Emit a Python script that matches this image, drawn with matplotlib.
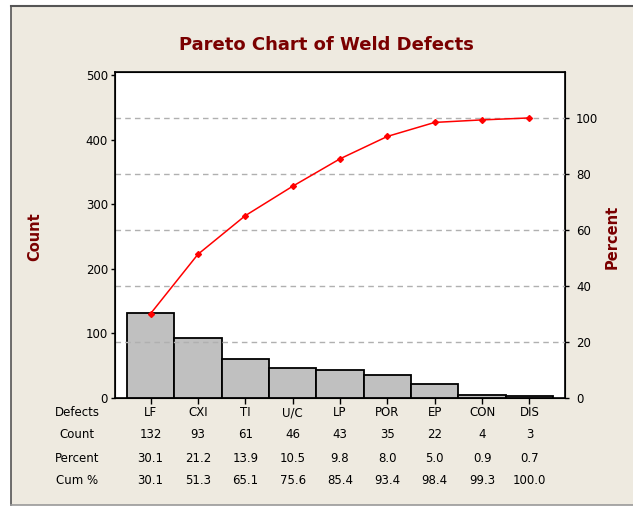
import matplotlib
matplotlib.use("Agg")
import matplotlib.pyplot as plt
from matplotlib.transforms import blended_transform_factory
from matplotlib.lines import Line2D

defects = ["LF", "CXI", "TI", "U/C", "LP", "POR", "EP", "CON", "DIS"]
counts = [132, 93, 61, 46, 43, 35, 22, 4, 3]
percent = [30.1, 21.2, 13.9, 10.5, 9.8, 8.0, 5.0, 0.9, 0.7]
cum_pct = [30.1, 51.3, 65.1, 75.6, 85.4, 93.4, 98.4, 99.3, 100.0]
count_ticks = [0, 100, 200, 300, 400, 500]
pct_ticks = [0, 20, 40, 60, 80, 100]

BG = "#EEEAE0"
DARKRED = "#7A0000"
W, H = 633, 507
fig = plt.figure(figsize=(W / 100, H / 100), dpi=100, facecolor="white")

# beige panel with border
fig.patches.append(plt.Rectangle((11 / W, 1 - 505 / H), 1 - 11 / W, (505 - 6) / H,
                                 transform=fig.transFigure, facecolor=BG,
                                 edgecolor="none", zorder=-10))
fig.lines.append(Line2D([11 / W, 1], [1 - 6 / H, 1 - 6 / H], transform=fig.transFigure,
                        color="#555555", lw=1.5))
fig.lines.append(Line2D([11 / W, 11 / W], [1 - 6 / H, 1 - 505 / H], transform=fig.transFigure,
                        color="#555555", lw=1.2))
fig.lines.append(Line2D([11 / W, 1], [1 - 505 / H, 1 - 505 / H], transform=fig.transFigure,
                        color="#999999", lw=1.2))

ax = fig.add_axes([115 / W, 1 - 398 / H, 450 / W, 326 / H])
ax.set_facecolor("white")
x = list(range(len(defects)))
ax.bar(x, counts, width=1.0, color="#C0C0C0", edgecolor="black", linewidth=1.3, zorder=3)
ax.set_xlim(-0.75, 8.75)
ax.set_ylim(0, 505)
ax.set_yticks(count_ticks)
ax.set_xticks(x)
ax.set_xticklabels([""] * len(x))
ax.tick_params(axis="x", length=4, width=1, direction="out")
ax.tick_params(axis="y", length=3, width=1, labelsize=8.5, pad=2)
for s in ax.spines.values():
    s.set_linewidth(1.2)

ax2 = ax.twinx()
ax2.set_ylim(0, 116.4)
ax2.set_yticks(pct_ticks)
ax2.tick_params(axis="y", length=3, width=1, labelsize=8.5, pad=5)
for t in pct_ticks[1:]:
    ax2.axhline(t, color="#B0B0B0", lw=1, ls=(0, (4, 3)), zorder=1)
ax2.plot(x, cum_pct, color="red", lw=1.1, marker="D", markersize=3, zorder=5)
ax.set_zorder(1)
ax2.set_zorder(2)
ax2.patch.set_visible(False)

fig.text(326 / W, 1 - 45 / H, "Pareto Chart of Weld Defects", ha="center", va="center",
         fontsize=13, fontweight="bold", color=DARKRED)
fig.text(35 / W, 1 - 237 / H, "Count", rotation=90, ha="center", va="center",
         fontsize=10.5, fontweight="bold", color=DARKRED)
fig.text(612 / W, 1 - 237 / H, "Percent", rotation=90, ha="center", va="center",
         fontsize=10.5, fontweight="bold", color=DARKRED)

# table below
tr = blended_transform_factory(ax.transData, fig.transFigure)
rows_y = [413, 434, 458, 480]
row_labels = ["Defects", "Count", "Percent", "Cum %"]
row_vals = [defects, [str(c) for c in counts], [f"{p:.1f}" for p in percent],
            [f"{p:.1f}" for p in cum_pct]]
for ry, lab, vals in zip(rows_y, row_labels, row_vals):
    fig.text(77 / W, 1 - ry / H, lab, ha="center", va="center", fontsize=8.5)
    for xi, v in zip(x, vals):
        ax.text(xi, 1 - ry / H, v, transform=tr, ha="center", va="center", fontsize=8.5)

fig.savefig("out.png", dpi=100, facecolor="white")
